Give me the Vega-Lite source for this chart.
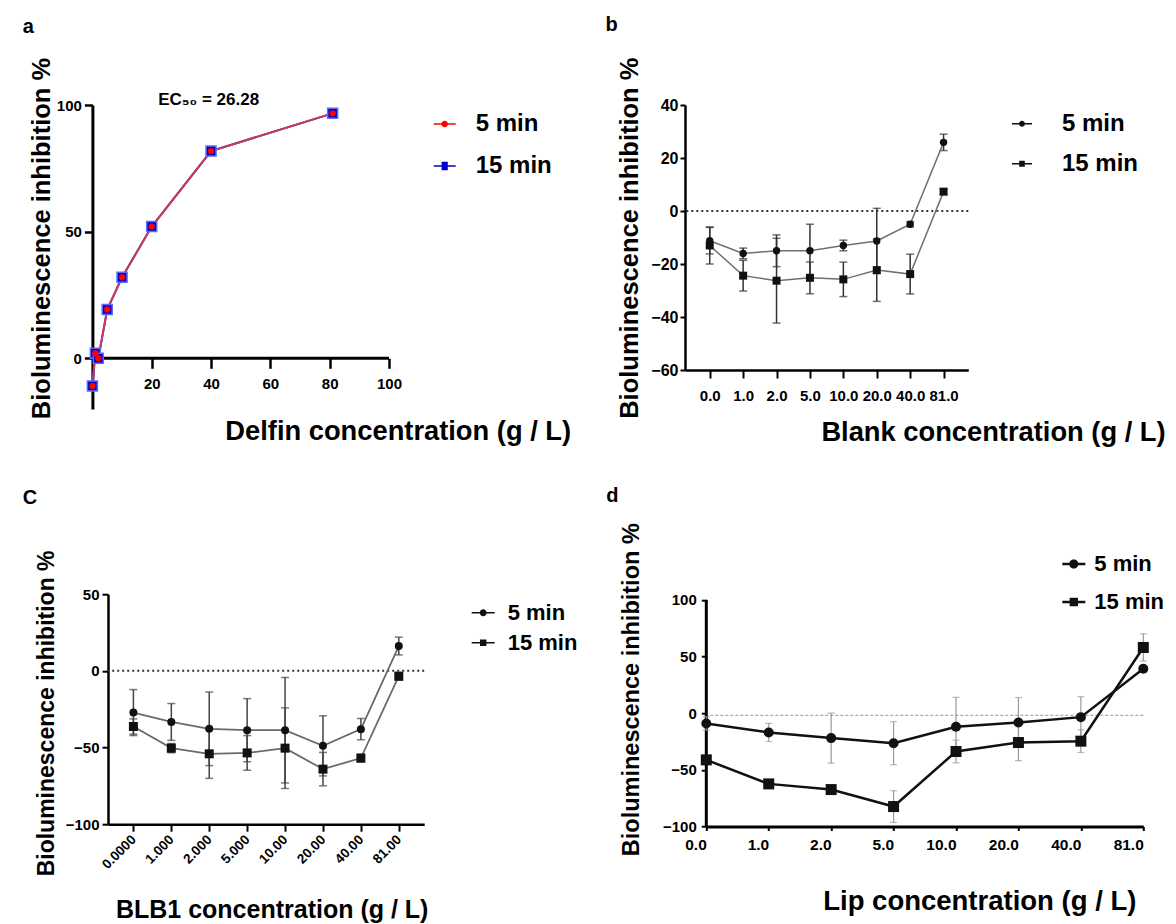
{
  "$schema": "https://vega.github.io/schema/vega-lite/v6.json",
  "background": "white",
  "padding": {"left": 22, "top": 15, "right": 0, "bottom": 0},
  "spacing": 40.2,
  "resolve": {"scale": {"color": "independent"}, "legend": {"color": "independent"}},
  "config": {
    "view": {"stroke": null},
    "axis": {"grid": false, "domainColor": "black", "tickColor": "black", "labelColor": "black", "titleColor": "black", "labelFont": "Liberation Sans, Arial, sans-serif", "labelFontWeight": "bold", "titleFont": "Liberation Sans, Arial, sans-serif", "titleFontWeight": "bold", "labelFlush": false, "labelOverlap": false},
    "legend": {"labelFont": "Liberation Sans, Arial, sans-serif", "labelFontWeight": "bold", "labelColor": "black", "padding": 0, "symbolStrokeWidth": 0, "symbolOpacity": 1},
    "title": {"font": "Liberation Sans, Arial, sans-serif", "fontWeight": "bold", "fontSize": 20, "color": "black", "anchor": "start", "frame": "group"}
  },
  "vconcat": [
    {
      "bounds": "full",
      "spacing": 34,
      "resolve": {"scale": {"color": "independent"}, "legend": {"color": "independent"}},
      "hconcat": [
        {
          "width": 281,
          "height": 304,
          "title": {"text": "a", "dx": -85.3, "offset": 20},
          "data": {"values": [
            {"series": "15 min", "conc": 0, "y": -10.9},
            {"series": "15 min", "conc": 1, "y": 2},
            {"series": "15 min", "conc": 2, "y": 0},
            {"series": "15 min", "conc": 5, "y": 19.3},
            {"series": "15 min", "conc": 10, "y": 32},
            {"series": "15 min", "conc": 20, "y": 52},
            {"series": "15 min", "conc": 40, "y": 81.8},
            {"series": "15 min", "conc": 81, "y": 96.7},
            {"series": "5 min", "conc": 0, "y": -10.9},
            {"series": "5 min", "conc": 1, "y": 2},
            {"series": "5 min", "conc": 2, "y": 0},
            {"series": "5 min", "conc": 5, "y": 19.3},
            {"series": "5 min", "conc": 10, "y": 32},
            {"series": "5 min", "conc": 20, "y": 52},
            {"series": "5 min", "conc": 40, "y": 81.8},
            {"series": "5 min", "conc": 81, "y": 96.7}
          ]},
          "layer": [
            {
              "data": {"values": [{}]},
              "mark": {"type": "rule", "color": "black", "strokeWidth": 3},
              "encoding": {
                "x": {"datum": 0, "type": "quantitative", "scale": {"domain": [5.26, 100], "nice": false, "zero": false},
                  "axis": {"values": [20, 40, 60, 80, 100], "offset": -50.7, "domain": false, "tickWidth": 2.5, "tickSize": 10, "labelFontSize": 15, "labelPadding": 8, "title": "Delfin concentration (g / L)", "titleFontSize": 27.3, "titleX": 289.7, "titleY": 81, "titleBaseline": "alphabetic", "titleAlign": "center"}},
                "x2": {"datum": 100},
                "y": {"datum": 0, "type": "quantitative", "scale": {"domain": [-20, 100], "nice": false, "zero": false},
                  "axis": {"values": [0, 50, 100], "offset": 15.6, "domainWidth": 3, "tickWidth": 2.5, "tickSize": 8, "labelFontSize": 15, "labelPadding": 3, "title": "Bioluminescence inhibition %", "titleFontSize": 25.5, "titleX": -43, "titleY": 133, "titleBaseline": "alphabetic", "titleAlign": "center", "titleAngle": 270}}
              }
            },
            {
              "transform": [{"filter": "datum.series === '15 min'"}],
              "mark": {"type": "line", "color": "#2b2bd0", "strokeWidth": 2},
              "encoding": {"x": {"field": "conc", "type": "quantitative"}, "y": {"field": "y", "type": "quantitative"}}
            },
            {
              "transform": [{"filter": "datum.series === '5 min'"}],
              "mark": {"type": "line", "color": "#c83a5a", "strokeWidth": 2},
              "encoding": {"x": {"field": "conc", "type": "quantitative"}, "y": {"field": "y", "type": "quantitative"}}
            },
            {
              "transform": [{"filter": "datum.series === '15 min'"}],
              "mark": {"type": "point", "shape": "square", "filled": true, "size": 100, "color": "#0000c8", "stroke": "#5a6cff", "strokeWidth": 1.5, "opacity": 1},
              "encoding": {"x": {"field": "conc", "type": "quantitative"}, "y": {"field": "y", "type": "quantitative"}}
            },
            {
              "transform": [{"filter": "datum.series === '5 min'"}],
              "mark": {"type": "point", "shape": "circle", "filled": true, "size": 40, "opacity": 1},
              "encoding": {
                "x": {"field": "conc", "type": "quantitative"}, "y": {"field": "y", "type": "quantitative"},
                "color": {"field": "series", "type": "nominal", "scale": {"domain": ["5 min", "15 min"], "range": ["#ff0000", "#0000c8"]},
                  "legend": {"orient": "none", "legendX": 324.7, "legendY": 7, "title": null, "labelFontSize": 24, "symbolSize": 484, "labelOffset": 19, "rowPadding": 18,
                    "encode": {"symbols": {"update": {"shape": {"signal": "datum.value === '5 min' ? 'M-1,-0.06H1V0.06H-1Z M0.3,0A0.3,0.3,0,1,1,-0.3,0A0.3,0.3,0,1,1,0.3,0Z' : 'M-1,-0.07H1V0.07H-1Z M-0.28,-0.38H0.28V0.38H-0.28Z'"}}}}}}
              }
            },
            {
              "data": {"values": [{}]},
              "mark": {"type": "text", "text": "EC₅₀ = 26.28", "font": "Liberation Sans, DejaVu Sans, sans-serif", "fontWeight": "bold", "fontSize": 17, "color": "black", "align": "center", "baseline": "middle"},
              "encoding": {"x": {"datum": 39.2}, "y": {"datum": 102}}
            }
          ]
        },
        {
          "width": 283.3,
          "height": 265,
          "title": {"text": "b", "dx": -79.5, "offset": 22},
          "data": {"values": [
            {"series": "15 min", "conc": "0.0", "y": -13, "lo": -20, "hi": -6},
            {"series": "15 min", "conc": "1.0", "y": -24.4, "lo": -30.2, "hi": -18.6},
            {"series": "15 min", "conc": "2.0", "y": -26.3, "lo": -42.3, "hi": -10.3},
            {"series": "15 min", "conc": "5.0", "y": -25.2, "lo": -31.2, "hi": -19.2},
            {"series": "15 min", "conc": "10.0", "y": -25.8, "lo": -32.3, "hi": -19.3},
            {"series": "15 min", "conc": "20.0", "y": -22.3, "lo": -34.1, "hi": -10.5},
            {"series": "15 min", "conc": "40.0", "y": -23.8, "lo": -31.3, "hi": -16.3},
            {"series": "15 min", "conc": "81.0", "y": 7.3, "lo": 6.3, "hi": 8.3},
            {"series": "5 min", "conc": "0.0", "y": -11.2, "lo": -16.2, "hi": -6.2},
            {"series": "5 min", "conc": "1.0", "y": -16, "lo": -18, "hi": -14},
            {"series": "5 min", "conc": "2.0", "y": -15, "lo": -21, "hi": -9},
            {"series": "5 min", "conc": "5.0", "y": -15, "lo": -25, "hi": -5},
            {"series": "5 min", "conc": "10.0", "y": -13, "lo": -15, "hi": -11},
            {"series": "5 min", "conc": "20.0", "y": -11.3, "lo": -23.6, "hi": 1},
            {"series": "5 min", "conc": "40.0", "y": -5, "lo": -6, "hi": -4},
            {"series": "5 min", "conc": "81.0", "y": 25.9, "lo": 22.8, "hi": 29}
          ]},
          "layer": [
            {
              "mark": {"type": "rule", "strokeDash": [2, 3], "strokeWidth": 2, "color": "#333333"},
              "data": {"values": [{}]},
              "encoding": {"y": {"datum": 0, "type": "quantitative"}}
            },
            {
              "mark": {"type": "rule", "color": "#333333", "strokeWidth": 1.5},
              "encoding": {
                "x": {"field": "conc", "type": "ordinal", "sort": null, "scale": {"type": "point", "domain": ["0.0", "1.0", "2.0", "5.0", "10.0", "20.0", "40.0", "81.0"], "padding": 0.74},
                  "axis": {"labelAngle": 0, "domainWidth": 2.5, "tickWidth": 2, "tickSize": 8, "labelFontSize": 15, "labelPadding": 10, "title": "Blank concentration (g / L)", "titleFontSize": 27.3, "titleX": 308, "titleY": 70, "titleBaseline": "alphabetic", "titleAlign": "center"}},
                "y": {"field": "lo", "type": "quantitative", "scale": {"domain": [-60, 40], "nice": false, "zero": false},
                  "axis": {"values": [-60, -40, -20, 0, 20, 40], "domainWidth": 2.5, "tickWidth": 2, "tickSize": 5, "labelFontSize": 16, "labelPadding": 2, "title": "Bioluminescence inhibition %", "titleFontSize": 25.5, "titleX": -48, "titleY": 132.7, "titleBaseline": "alphabetic", "titleAlign": "center", "titleAngle": 270}},
                "y2": {"field": "hi"}
              }
            },
            {
              "mark": {"type": "tick", "orient": "horizontal", "size": 8, "thickness": 1.5, "color": "#333333"},
              "encoding": {"x": {"field": "conc", "type": "ordinal"}, "y": {"field": "lo", "type": "quantitative"}}
            },
            {
              "mark": {"type": "tick", "orient": "horizontal", "size": 8, "thickness": 1.5, "color": "#333333"},
              "encoding": {"x": {"field": "conc", "type": "ordinal"}, "y": {"field": "hi", "type": "quantitative"}}
            },
            {
              "mark": {"type": "line", "color": "#707070", "strokeWidth": 1.5},
              "encoding": {"x": {"field": "conc", "type": "ordinal"}, "y": {"field": "y", "type": "quantitative"}, "detail": {"field": "series"}, "order": {"value": null}}
            },
            {
              "transform": [{"filter": "datum.series === '15 min'"}],
              "mark": {"type": "point", "shape": "square", "filled": true, "size": 64, "opacity": 1},
              "encoding": {
                "x": {"field": "conc", "type": "ordinal"}, "y": {"field": "y", "type": "quantitative"},
                "color": {"field": "series", "type": "nominal", "scale": {"domain": ["5 min", "15 min"], "range": ["#111111", "#111111"]},
                  "legend": {"orient": "none", "legendX": 325, "legendY": 6.7, "title": null, "labelFontSize": 24, "symbolSize": 400, "labelOffset": 28, "rowPadding": 16,
                    "encode": {"symbols": {"update": {"shape": {"signal": "datum.value === '5 min' ? 'M-1,-0.07H1V0.07H-1Z M0.3,0A0.3,0.3,0,1,1,-0.3,0A0.3,0.3,0,1,1,0.3,0Z' : 'M-1,-0.07H1V0.07H-1Z M-0.28,-0.3H0.28V0.3H-0.28Z'"}}}}}}
              }
            },
            {
              "transform": [{"filter": "datum.series === '5 min'"}],
              "mark": {"type": "point", "shape": "circle", "filled": true, "size": 55, "opacity": 1},
              "encoding": {"x": {"field": "conc", "type": "ordinal"}, "y": {"field": "y", "type": "quantitative"}, "color": {"field": "series", "type": "nominal"}}
            }
          ]
        }
      ]
    },
    {
      "bounds": "full",
      "spacing": 28.3,
      "resolve": {"scale": {"color": "independent"}, "legend": {"color": "independent"}},
      "hconcat": [
        {
          "width": 316.2,
          "height": 230,
          "title": {"text": "C", "dx": -85.3, "offset": 42},
          "data": {"values": [
            {"series": "15 min", "conc": "0.0000", "y": -36.3, "lo": -41.3, "hi": -31.3},
            {"series": "15 min", "conc": "1.000", "y": -50.4, "lo": -53.4, "hi": -47.4},
            {"series": "15 min", "conc": "2.000", "y": -54.1, "lo": -70.1, "hi": -38.1},
            {"series": "15 min", "conc": "5.000", "y": -53.5, "lo": -64.8, "hi": -42.2},
            {"series": "15 min", "conc": "10.00", "y": -50.4, "lo": -76.7, "hi": -24.1},
            {"series": "15 min", "conc": "20.00", "y": -64.1, "lo": -75, "hi": -53.2},
            {"series": "15 min", "conc": "40.00", "y": -56.9, "lo": -59.4, "hi": -54.4},
            {"series": "15 min", "conc": "81.00", "y": -3.5, "lo": -6, "hi": -1},
            {"series": "5 min", "conc": "0.0000", "y": -27.2, "lo": -42.2, "hi": -12.2},
            {"series": "5 min", "conc": "1.000", "y": -33.3, "lo": -45.3, "hi": -21.3},
            {"series": "5 min", "conc": "2.000", "y": -37.8, "lo": -61.8, "hi": -13.8},
            {"series": "5 min", "conc": "5.000", "y": -38.7, "lo": -59.3, "hi": -18.1},
            {"series": "5 min", "conc": "10.00", "y": -38.7, "lo": -73.1, "hi": -4.3},
            {"series": "5 min", "conc": "20.00", "y": -48.9, "lo": -68.5, "hi": -29.3},
            {"series": "5 min", "conc": "40.00", "y": -38, "lo": -45, "hi": -31},
            {"series": "5 min", "conc": "81.00", "y": 16.2, "lo": 10.4, "hi": 22}
          ]},
          "layer": [
            {
              "mark": {"type": "rule", "strokeDash": [2, 3], "strokeWidth": 2, "color": "#333333"},
              "data": {"values": [{}]},
              "encoding": {"y": {"datum": 0, "type": "quantitative"}}
            },
            {
              "mark": {"type": "rule", "color": "#444444", "strokeWidth": 1.5},
              "encoding": {
                "x": {"field": "conc", "type": "ordinal", "sort": null, "scale": {"type": "point", "domain": ["0.0000", "1.000", "2.000", "5.000", "10.00", "20.00", "40.00", "81.00"], "padding": 0.67},
                  "axis": {"labelAngle": -45, "labelAlign": "right", "labelBaseline": "middle", "domainWidth": 2.5, "tickWidth": 2, "tickSize": 7, "labelFontSize": 13.5, "labelPadding": 6, "title": "BLB1 concentration (g / L)", "titleFontSize": 25, "titleX": 163.7, "titleY": 93, "titleBaseline": "alphabetic", "titleAlign": "center"}},
                "y": {"field": "lo", "type": "quantitative", "scale": {"domain": [-100, 50], "nice": false, "zero": false},
                  "axis": {"values": [-100, -50, 0, 50], "domainWidth": 2.5, "tickWidth": 2, "tickSize": 6, "labelFontSize": 15, "labelPadding": 3, "title": "Bioluminescence inhibition %", "titleFontSize": 23, "titleX": -55, "titleY": 118.7, "titleBaseline": "alphabetic", "titleAlign": "center", "titleAngle": 270}},
                "y2": {"field": "hi"}
              }
            },
            {
              "mark": {"type": "tick", "orient": "horizontal", "size": 8, "thickness": 1.5, "color": "#444444"},
              "encoding": {"x": {"field": "conc", "type": "ordinal"}, "y": {"field": "lo", "type": "quantitative"}}
            },
            {
              "mark": {"type": "tick", "orient": "horizontal", "size": 8, "thickness": 1.5, "color": "#444444"},
              "encoding": {"x": {"field": "conc", "type": "ordinal"}, "y": {"field": "hi", "type": "quantitative"}}
            },
            {
              "mark": {"type": "line", "color": "#6a6a6a", "strokeWidth": 1.8},
              "encoding": {"x": {"field": "conc", "type": "ordinal"}, "y": {"field": "y", "type": "quantitative"}, "detail": {"field": "series"}, "order": {"value": null}}
            },
            {
              "transform": [{"filter": "datum.series === '15 min'"}],
              "mark": {"type": "point", "shape": "square", "filled": true, "size": 81, "opacity": 1},
              "encoding": {
                "x": {"field": "conc", "type": "ordinal"}, "y": {"field": "y", "type": "quantitative"},
                "color": {"field": "series", "type": "nominal", "scale": {"domain": ["5 min", "15 min"], "range": ["#111111", "#111111"]},
                  "legend": {"orient": "none", "legendX": 363.7, "legendY": 7, "title": null, "labelFontSize": 22, "symbolSize": 529, "labelOffset": 13, "rowPadding": 7,
                    "encode": {"symbols": {"update": {"shape": {"signal": "datum.value === '5 min' ? 'M-1,-0.07H1V0.07H-1Z M0.3,0A0.3,0.3,0,1,1,-0.3,0A0.3,0.3,0,1,1,0.3,0Z' : 'M-1,-0.07H1V0.07H-1Z M-0.28,-0.28H0.28V0.28H-0.28Z'"}}}}}}
              }
            },
            {
              "transform": [{"filter": "datum.series === '5 min'"}],
              "mark": {"type": "point", "shape": "circle", "filled": true, "size": 64, "opacity": 1},
              "encoding": {"x": {"field": "conc", "type": "ordinal"}, "y": {"field": "y", "type": "quantitative"}, "color": {"field": "series", "type": "nominal"}}
            }
          ]
        },
        {
          "width": 437,
          "height": 232.3,
          "title": {"text": "d", "dx": -100, "offset": 16.5},
          "data": {"values": [
            {"series": "15 min", "conc": "0.0", "y": -41.2, "lo": -43.2, "hi": -39.2},
            {"series": "15 min", "conc": "1.0", "y": -62.4, "lo": -64.4, "hi": -60.4},
            {"series": "15 min", "conc": "2.0", "y": -67.4, "lo": -69.4, "hi": -65.4},
            {"series": "15 min", "conc": "5.0", "y": -82.4, "lo": -96.4, "hi": -68.4},
            {"series": "15 min", "conc": "10.0", "y": -33.8, "lo": -43.8, "hi": -23.8},
            {"series": "15 min", "conc": "20.0", "y": -25.9, "lo": -41.9, "hi": -9.9},
            {"series": "15 min", "conc": "40.0", "y": -24.7, "lo": -34.7, "hi": -14.7},
            {"series": "15 min", "conc": "81.0", "y": 58, "lo": 46, "hi": 70},
            {"series": "5 min", "conc": "0.0", "y": -9.1, "lo": -15, "hi": -3.2},
            {"series": "5 min", "conc": "1.0", "y": -17, "lo": -25, "hi": -9},
            {"series": "5 min", "conc": "2.0", "y": -22, "lo": -44, "hi": 0},
            {"series": "5 min", "conc": "5.0", "y": -26.5, "lo": -45.5, "hi": -7.5},
            {"series": "5 min", "conc": "10.0", "y": -12, "lo": -38, "hi": 14},
            {"series": "5 min", "conc": "20.0", "y": -8.2, "lo": -30.2, "hi": 13.8},
            {"series": "5 min", "conc": "40.0", "y": -3.5, "lo": -21.5, "hi": 14.5},
            {"series": "5 min", "conc": "81.0", "y": 39.2, "lo": 37.2, "hi": 41.2}
          ]},
          "layer": [
            {
              "mark": {"type": "rule", "strokeDash": [3, 2], "strokeWidth": 1.2, "color": "#aaaaaa"},
              "data": {"values": [{}]},
              "encoding": {"y": {"datum": -2, "type": "quantitative"}}
            },
            {
              "mark": {"type": "rule", "color": "black", "strokeWidth": 3},
              "data": {"values": [{}]},
              "encoding": {"x": {"datum": "0.0", "type": "ordinal"}, "y": {"datum": -100, "type": "quantitative"}, "y2": {"datum": 100}}
            },
            {
              "mark": {"type": "rule", "color": "#999999", "strokeWidth": 1.2},
              "encoding": {
                "x": {"field": "conc", "type": "ordinal", "sort": null, "scale": {"type": "point", "domain": ["0.0", "1.0", "2.0", "5.0", "10.0", "20.0", "40.0", "81.0"], "padding": 0},
                  "axis": {"labelAngle": 0, "domainWidth": 3, "tickWidth": 2, "tickSize": 4, "labelFontSize": 15.5, "labelPadding": 14, "title": "Lip concentration (g / L)", "titleFontSize": 27.5, "titleX": 273, "titleY": 82.7, "titleBaseline": "alphabetic", "titleAlign": "center"}},
                "y": {"field": "lo", "type": "quantitative", "scale": {"domain": [-100, 105], "nice": false, "zero": false},
                  "axis": {"values": [-100, -50, 0, 50, 100], "domain": false, "tickWidth": 2, "tickSize": 5, "labelFontSize": 15, "labelPadding": 5, "title": "Bioluminescence inhibition %", "titleFontSize": 23.5, "titleX": -68, "titleY": 95, "titleBaseline": "alphabetic", "titleAlign": "center", "titleAngle": 270}},
                "y2": {"field": "hi"}
              }
            },
            {
              "mark": {"type": "tick", "orient": "horizontal", "size": 7, "thickness": 1.2, "color": "#999999"},
              "encoding": {"x": {"field": "conc", "type": "ordinal"}, "y": {"field": "lo", "type": "quantitative"}}
            },
            {
              "mark": {"type": "tick", "orient": "horizontal", "size": 7, "thickness": 1.2, "color": "#999999"},
              "encoding": {"x": {"field": "conc", "type": "ordinal"}, "y": {"field": "hi", "type": "quantitative"}}
            },
            {
              "mark": {"type": "line", "color": "#111111", "strokeWidth": 2.5},
              "encoding": {"x": {"field": "conc", "type": "ordinal"}, "y": {"field": "y", "type": "quantitative"}, "detail": {"field": "series"}, "order": {"value": null}}
            },
            {
              "transform": [{"filter": "datum.series === '15 min'"}],
              "mark": {"type": "point", "shape": "square", "filled": true, "size": 121, "opacity": 1},
              "encoding": {
                "x": {"field": "conc", "type": "ordinal"}, "y": {"field": "y", "type": "quantitative"},
                "color": {"field": "series", "type": "nominal", "scale": {"domain": ["5 min", "15 min"], "range": ["#111111", "#111111"]},
                  "legend": {"orient": "none", "legendX": 356, "legendY": -41.7, "title": null, "labelFontSize": 22, "symbolSize": 529, "labelOffset": 9, "rowPadding": 15,
                    "encode": {"symbols": {"update": {"shape": {"signal": "datum.value === '5 min' ? 'M-1,-0.1H1V0.1H-1Z M0.4,0A0.4,0.4,0,1,1,-0.4,0A0.4,0.4,0,1,1,0.4,0Z' : 'M-1,-0.1H1V0.1H-1Z M-0.36,-0.36H0.36V0.36H-0.36Z'"}}}}}}
              }
            },
            {
              "transform": [{"filter": "datum.series === '5 min'"}],
              "mark": {"type": "point", "shape": "circle", "filled": true, "size": 100, "opacity": 1},
              "encoding": {"x": {"field": "conc", "type": "ordinal"}, "y": {"field": "y", "type": "quantitative"}, "color": {"field": "series", "type": "nominal"}}
            }
          ]
        }
      ]
    }
  ]
}
